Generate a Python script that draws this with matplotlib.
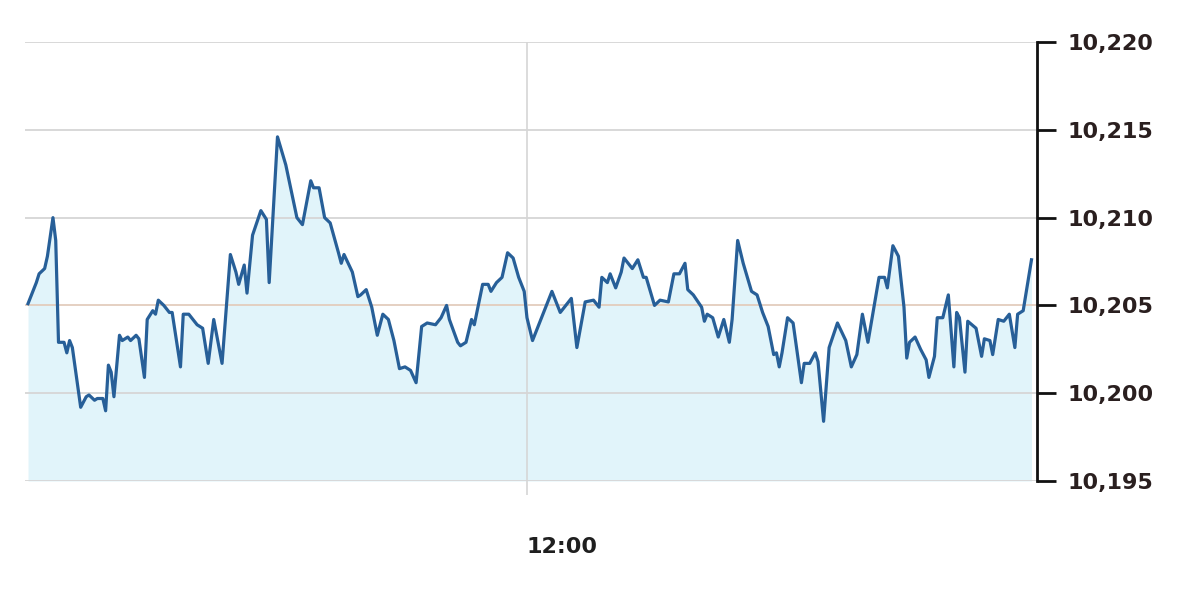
import matplotlib
matplotlib.use("Agg")
import matplotlib.pyplot as plt

# minutes after 09:00 and index level
minutes = [
    0, 3, 4, 6, 7, 9, 10, 11, 13, 14, 15, 16, 19, 21, 22, 24, 25, 27, 28, 29,
    30, 31, 33, 34, 36, 37, 39, 40, 42, 43, 45, 46, 47, 49, 51, 52, 55, 56, 58,
    61, 63, 65, 67, 70, 73, 75, 76, 78, 79, 81, 84, 86, 87, 90, 93, 95, 97, 99,
    102, 103, 105, 107, 109, 112, 113, 114, 117, 119, 120, 122, 124, 126, 128,
    130, 132, 134, 136, 138, 140, 142, 144, 147, 149, 151, 152, 155, 156, 158,
    160, 161, 164, 166, 167, 169, 171, 173, 175, 177, 179, 180, 182, 185, 189,
    192, 195, 196, 198, 201, 204, 206, 207, 209, 210, 212, 214, 215, 218, 220,
    222, 223, 226, 228, 231, 233, 235, 237, 238, 240, 243, 244, 245, 247, 249,
    251, 253, 254, 256, 258, 261, 263, 265, 267, 269, 270, 271, 272, 274, 276,
    279, 280, 282, 284, 285, 287, 289, 292, 295, 297, 299, 301, 303, 306, 307,
    309, 310, 312, 314, 316, 317, 318, 320, 322, 324, 325, 327, 328, 330, 332,
    334, 335, 336, 338, 339, 342, 344, 345, 347, 348, 350, 352, 354, 356, 357,
    359, 362,
]
price = [
    10205.1, 10206.3, 10206.8, 10207.1, 10207.8, 10210.0, 10208.7, 10202.9,
    10202.9, 10202.3, 10203.0, 10202.6, 10199.2, 10199.8, 10199.9, 10199.6,
    10199.7, 10199.7, 10199.0, 10201.6, 10201.2, 10199.8, 10203.3, 10203.0,
    10203.2, 10203.0, 10203.3, 10203.1, 10200.9, 10204.2, 10204.7, 10204.5,
    10205.3, 10205.0, 10204.6, 10204.6, 10201.5, 10204.5, 10204.5, 10203.9,
    10203.7, 10201.7, 10204.2, 10201.7, 10207.9, 10206.9, 10206.2, 10207.3,
    10205.7, 10209.0, 10210.4, 10209.9, 10206.3, 10214.6, 10213.0, 10211.5,
    10210.0, 10209.6, 10212.1, 10211.7, 10211.7, 10210.0, 10209.7, 10208.0,
    10207.4, 10207.9, 10206.9, 10205.5, 10205.6, 10205.9, 10204.9, 10203.3,
    10204.5, 10204.2, 10203.0, 10201.4, 10201.5, 10201.3, 10200.6, 10203.8,
    10204.0, 10203.9, 10204.3, 10205.0, 10204.2, 10202.9, 10202.7, 10202.9,
    10204.2, 10203.9, 10206.2, 10206.2, 10205.8, 10206.3, 10206.6, 10208.0,
    10207.7, 10206.6, 10205.8, 10204.3, 10203.0, 10204.2, 10205.8, 10204.6,
    10205.2, 10205.4, 10202.6, 10205.2, 10205.3, 10204.9, 10206.6, 10206.3,
    10206.8, 10206.0, 10206.9, 10207.7, 10207.1, 10207.6, 10206.6, 10206.6,
    10205.0, 10205.3, 10205.2, 10206.8, 10206.8, 10207.4, 10205.9, 10205.6,
    10204.9, 10204.1, 10204.5, 10204.3, 10203.2, 10204.2, 10202.9, 10204.2,
    10208.7, 10207.4, 10205.8, 10205.6, 10204.6, 10203.8, 10202.2, 10202.3,
    10201.5, 10202.3, 10204.3, 10204.0, 10200.6, 10201.7, 10201.7, 10202.3,
    10201.8, 10198.4, 10202.6, 10204.0, 10203.0, 10201.5, 10202.2, 10204.5,
    10202.9, 10205.7, 10206.6, 10206.6, 10206.0, 10208.4, 10207.8, 10204.9,
    10202.0, 10202.9, 10203.2, 10202.5, 10201.9, 10200.9, 10202.1, 10204.3,
    10204.3, 10205.6, 10201.5, 10204.6, 10204.3, 10201.2, 10204.1, 10203.7,
    10202.1, 10203.1, 10203.0, 10202.2, 10204.2, 10204.1, 10204.5, 10202.6,
    10204.5, 10204.7, 10207.6,
]

y_ticks = [10195, 10200, 10205, 10210, 10215, 10220]
x_ticks = [180]
x_labels = ["12:00"]

fig = plt.figure(figsize=(12, 6.04), dpi=100)
ax = fig.add_axes([0.0208, 0.2036, 0.8434, 0.7268])

ax.set_xlim(-1.1, 364)
ax.set_ylim(10195, 10220)

# grid drawn over the light fill, under the price line
for yv in y_ticks:
    c = "#e3cdbd" if yv == 10205 else "#d6d6d6"
    ax.axhline(yv, color=c, lw=1.3, zorder=1.5)
ax.axvline(180, color="#d6d6d6", lw=1.2, zorder=1.5)

ax.fill_between(minutes, price, 10195, color="#e1f4fa", lw=0, zorder=1)
ax.plot(minutes, price, color="#275f98", lw=2.3, solid_joinstyle="round", zorder=2)

for side in ["top", "left", "bottom"]:
    ax.spines[side].set_visible(False)
ax.spines["right"].set_linewidth(2)
ax.spines["right"].set_color("#111111")

ax.yaxis.tick_right()
ax.set_yticks(y_ticks)
ax.set_yticklabels([f"{v:,}" for v in y_ticks])
ax.tick_params(axis="y", direction="out", length=14, width=2, color="#111111",
               pad=8, labelsize=16, labelcolor="#2a1f1f")

ax.set_xticks(x_ticks)
ax.set_xticklabels(x_labels)
ax.tick_params(axis="x", direction="out", length=10, width=1.2, color="#d6d6d6",
               pad=30, labelsize=16, labelcolor="#1f1f1f")
for lbl in ax.get_xticklabels():
    lbl.set_horizontalalignment("left")
for lbl in ax.get_xticklabels() + ax.get_yticklabels():
    lbl.set_fontweight("bold")

fig.savefig("out.png", dpi=100, facecolor="white")
